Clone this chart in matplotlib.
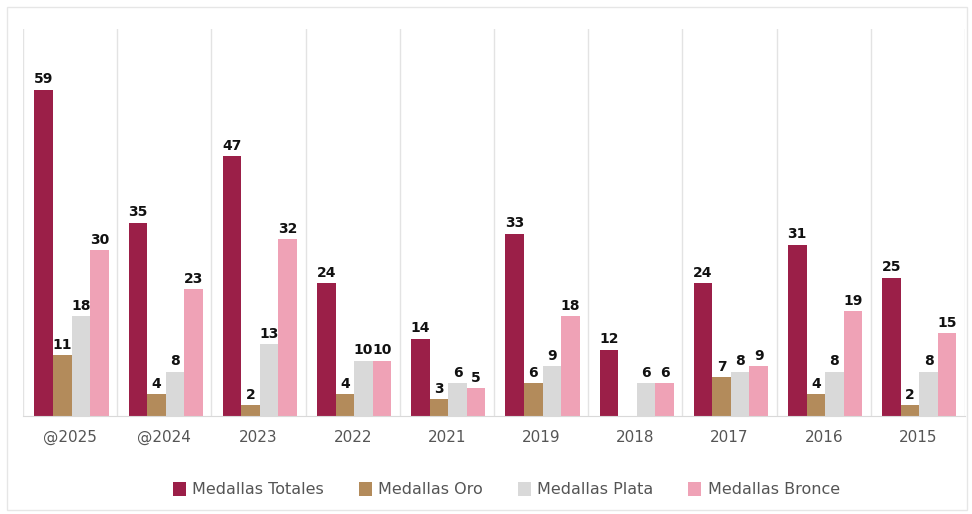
import numpy as np
import matplotlib.pyplot as plt
from matplotlib.patches import Rectangle

years = ["@2025", "@2024", "2023", "2022", "2021", "2019", "2018", "2017", "2016", "2015"]
totales = [59, 35, 47, 24, 14, 33, 12, 24, 31, 25]
oro = [11, 4, 2, 4, 3, 6, 0, 7, 4, 2]
plata = [18, 8, 13, 10, 6, 9, 6, 8, 8, 8]
bronce = [30, 23, 32, 10, 5, 18, 6, 9, 19, 15]

series = [
    ("Medallas Totales", totales, "#9b1f48"),
    ("Medallas Oro", oro, "#b38b5b"),
    ("Medallas Plata", plata, "#d9d9d9"),
    ("Medallas Bronce", bronce, "#efa2b6"),
]

plt.rcParams['font.family'] = ['DejaVu Sans']

fig = plt.figure(figsize=(9.72, 5.14), dpi=100)
fig.patches.append(Rectangle((7 / 972, 4 / 514), 960 / 972, 503 / 514, transform=fig.transFigure,
                             fill=False, edgecolor="#e6e6e6", linewidth=1))
ax = fig.add_axes([23 / 972, 98 / 514, 942 / 972, 387 / 514])

x = np.arange(len(years))
w = 0.197
for i, (name, vals, col) in enumerate(series):
    pos = x + (i - 1.5) * w + 0.015
    ax.bar(pos, vals, w, color=col, label=name, zorder=2)
    for p, v in zip(pos, vals):
        if v > 0:
            ax.text(p, v + 0.6, str(v), ha="center", va="bottom", fontsize=10,
                    fontweight="bold", color="#111111")

for b in np.arange(-0.5, len(years), 1.0):
    ax.axvline(b, color="#e3e3e3", linewidth=1, zorder=0)

ax.set_xlim(-0.5, len(years) - 0.5)
ax.set_ylim(0, 70)
ax.set_xticks(x)
ax.set_xticklabels(years, fontsize=11, color="#555555")
ax.tick_params(axis="x", length=0, pad=10)
ax.set_yticks([])
for s in ["top", "right", "left"]:
    ax.spines[s].set_visible(False)
ax.spines["bottom"].set_color("#d9d9d9")

ax.legend(loc="center", bbox_to_anchor=(0.513, -0.19), ncol=4, frameon=False,
          fontsize=11.5, handlelength=0.8, handleheight=1.0, columnspacing=2.2,
          handletextpad=0.4, labelcolor="#555555")

fig.savefig("out.png", dpi=100)
